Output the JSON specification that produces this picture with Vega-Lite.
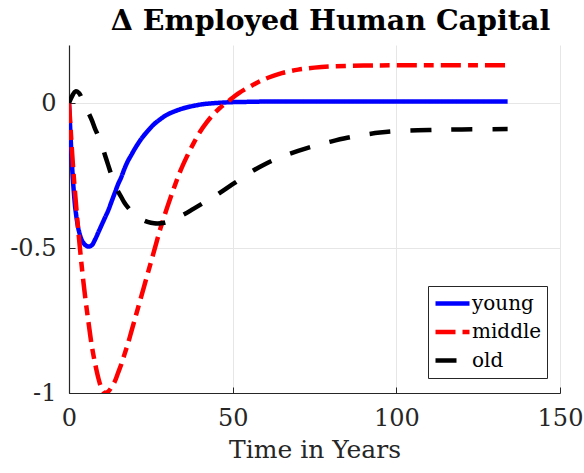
{
  "$schema": "https://vega.github.io/schema/vega-lite/v6.json",
  "autosize": "none",
  "width": 491,
  "height": 348,
  "padding": {"left": 69, "top": 45, "right": 24, "bottom": 80},
  "background": "white",
  "title": {"text": "Δ Employed Human Capital", "font": "DejaVu Serif", "fontSize": 28.5, "fontWeight": "bold", "color": "black", "dx": 16, "offset": 10, "anchor": "middle"},
  "datasets": {
    "curves": [
      {"t": 0, "v": 0, "group": "young"}, {"t": 0.5, "v": -0.12, "group": "young"}, {"t": 1, "v": -0.23, "group": "young"}, {"t": 1.5, "v": -0.31, "group": "young"}, {"t": 2, "v": -0.37, "group": "young"}, {"t": 3, "v": -0.44, "group": "young"}, {"t": 4, "v": -0.475, "group": "young"}, {"t": 5, "v": -0.49, "group": "young"}, {"t": 6, "v": -0.495, "group": "young"}, {"t": 7, "v": -0.49, "group": "young"}, {"t": 8, "v": -0.47, "group": "young"}, {"t": 9, "v": -0.445, "group": "young"}, {"t": 10, "v": -0.42, "group": "young"}, {"t": 11, "v": -0.395, "group": "young"}, {"t": 12, "v": -0.37, "group": "young"}, {"t": 13, "v": -0.34, "group": "young"}, {"t": 14, "v": -0.31, "group": "young"}, {"t": 15, "v": -0.28, "group": "young"}, {"t": 16, "v": -0.255, "group": "young"}, {"t": 17, "v": -0.225, "group": "young"}, {"t": 18, "v": -0.2, "group": "young"}, {"t": 19, "v": -0.18, "group": "young"}, {"t": 20, "v": -0.16, "group": "young"}, {"t": 22, "v": -0.125, "group": "young"}, {"t": 24, "v": -0.097, "group": "young"}, {"t": 26, "v": -0.073, "group": "young"}, {"t": 28, "v": -0.055, "group": "young"}, {"t": 30, "v": -0.04, "group": "young"}, {"t": 32, "v": -0.03, "group": "young"}, {"t": 35, "v": -0.018, "group": "young"}, {"t": 38, "v": -0.01, "group": "young"}, {"t": 41, "v": -0.004, "group": "young"}, {"t": 45, "v": 0, "group": "young"}, {"t": 50, "v": 0.003, "group": "young"}, {"t": 55, "v": 0.004, "group": "young"}, {"t": 60, "v": 0.005, "group": "young"}, {"t": 80, "v": 0.005, "group": "young"}, {"t": 100, "v": 0.005, "group": "young"}, {"t": 134, "v": 0.005, "group": "young"},
      {"t": 0, "v": 0, "group": "middle"}, {"t": 0.5, "v": -0.09, "group": "middle"}, {"t": 1, "v": -0.18, "group": "middle"}, {"t": 1.5, "v": -0.26, "group": "middle"}, {"t": 2, "v": -0.33, "group": "middle"}, {"t": 3, "v": -0.46, "group": "middle"}, {"t": 4, "v": -0.575, "group": "middle"}, {"t": 5, "v": -0.675, "group": "middle"}, {"t": 6, "v": -0.76, "group": "middle"}, {"t": 7, "v": -0.84, "group": "middle"}, {"t": 8, "v": -0.9, "group": "middle"}, {"t": 9, "v": -0.95, "group": "middle"}, {"t": 10, "v": -0.985, "group": "middle"}, {"t": 11, "v": -1.0, "group": "middle"}, {"t": 12, "v": -0.995, "group": "middle"}, {"t": 13, "v": -0.98, "group": "middle"}, {"t": 14, "v": -0.96, "group": "middle"}, {"t": 15, "v": -0.93, "group": "middle"}, {"t": 16, "v": -0.9, "group": "middle"}, {"t": 17, "v": -0.865, "group": "middle"}, {"t": 18, "v": -0.83, "group": "middle"}, {"t": 19, "v": -0.79, "group": "middle"}, {"t": 20, "v": -0.75, "group": "middle"}, {"t": 22, "v": -0.67, "group": "middle"}, {"t": 24, "v": -0.59, "group": "middle"}, {"t": 26, "v": -0.51, "group": "middle"}, {"t": 28, "v": -0.43, "group": "middle"}, {"t": 30, "v": -0.36, "group": "middle"}, {"t": 32, "v": -0.295, "group": "middle"}, {"t": 34, "v": -0.235, "group": "middle"}, {"t": 36, "v": -0.185, "group": "middle"}, {"t": 38, "v": -0.14, "group": "middle"}, {"t": 40, "v": -0.1, "group": "middle"}, {"t": 42, "v": -0.068, "group": "middle"}, {"t": 44, "v": -0.04, "group": "middle"}, {"t": 46, "v": -0.018, "group": "middle"}, {"t": 48, "v": 0, "group": "middle"}, {"t": 50, "v": 0.018, "group": "middle"}, {"t": 52, "v": 0.035, "group": "middle"}, {"t": 55, "v": 0.055, "group": "middle"}, {"t": 58, "v": 0.073, "group": "middle"}, {"t": 61, "v": 0.088, "group": "middle"}, {"t": 65, "v": 0.103, "group": "middle"}, {"t": 70, "v": 0.115, "group": "middle"}, {"t": 75, "v": 0.122, "group": "middle"}, {"t": 80, "v": 0.126, "group": "middle"}, {"t": 90, "v": 0.129, "group": "middle"}, {"t": 100, "v": 0.13, "group": "middle"}, {"t": 134, "v": 0.13, "group": "middle"},
      {"t": 0, "v": 0, "group": "old"}, {"t": 1, "v": 0.025, "group": "old"}, {"t": 2, "v": 0.04, "group": "old"}, {"t": 3, "v": 0.035, "group": "old"}, {"t": 4, "v": 0.015, "group": "old"}, {"t": 5, "v": -0.01, "group": "old"}, {"t": 6, "v": -0.035, "group": "old"}, {"t": 7, "v": -0.06, "group": "old"}, {"t": 8, "v": -0.09, "group": "old"}, {"t": 9, "v": -0.115, "group": "old"}, {"t": 10, "v": -0.145, "group": "old"}, {"t": 11, "v": -0.18, "group": "old"}, {"t": 12, "v": -0.215, "group": "old"}, {"t": 13, "v": -0.25, "group": "old"}, {"t": 14, "v": -0.28, "group": "old"}, {"t": 15, "v": -0.305, "group": "old"}, {"t": 16, "v": -0.325, "group": "old"}, {"t": 17, "v": -0.345, "group": "old"}, {"t": 18, "v": -0.36, "group": "old"}, {"t": 20, "v": -0.385, "group": "old"}, {"t": 22, "v": -0.4, "group": "old"}, {"t": 24, "v": -0.41, "group": "old"}, {"t": 26, "v": -0.415, "group": "old"}, {"t": 28, "v": -0.415, "group": "old"}, {"t": 30, "v": -0.41, "group": "old"}, {"t": 32, "v": -0.4, "group": "old"}, {"t": 35, "v": -0.385, "group": "old"}, {"t": 38, "v": -0.365, "group": "old"}, {"t": 41, "v": -0.345, "group": "old"}, {"t": 44, "v": -0.325, "group": "old"}, {"t": 48, "v": -0.295, "group": "old"}, {"t": 52, "v": -0.265, "group": "old"}, {"t": 56, "v": -0.235, "group": "old"}, {"t": 60, "v": -0.21, "group": "old"}, {"t": 65, "v": -0.185, "group": "old"}, {"t": 70, "v": -0.165, "group": "old"}, {"t": 75, "v": -0.148, "group": "old"}, {"t": 80, "v": -0.133, "group": "old"}, {"t": 85, "v": -0.12, "group": "old"}, {"t": 90, "v": -0.11, "group": "old"}, {"t": 95, "v": -0.102, "group": "old"}, {"t": 100, "v": -0.097, "group": "old"}, {"t": 110, "v": -0.093, "group": "old"}, {"t": 120, "v": -0.091, "group": "old"}, {"t": 134, "v": -0.09, "group": "old"}
    ]
  },
  "data": {"name": "curves"},
  "mark": {"type": "line", "strokeWidth": 4.5, "interpolate": "catmull-rom", "clip": true},
  "encoding": {
    "x": {"field": "t", "type": "quantitative", "scale": {"domain": [0, 150], "nice": false},
      "axis": {"values": [0, 50, 100, 150], "title": "Time in Years", "labelPadding": 19, "titlePadding": 7, "labelFlush": false}},
    "y": {"field": "v", "type": "quantitative", "scale": {"domain": [-1, 0.2], "nice": false, "zero": false},
      "axis": {"values": [-1, -0.5, 0], "title": null, "labelExpr": "'' + datum.value", "labelPadding": 19, "labelFlush": false}},
    "color": {"field": "group", "type": "nominal", "sort": ["young", "middle", "old"],
      "scale": {"domain": ["young", "middle", "old"], "range": ["#0000ff", "#ff0000", "#000000"]},
      "legend": {"title": null, "orient": "none", "legendX": 359, "legendY": 241, "labelFont": "DejaVu Serif", "labelFontSize": 20, "labelOffset": 0}},
    "strokeDash": {"field": "group", "type": "nominal", "sort": ["young", "middle", "old"],
      "scale": {"domain": ["young", "middle", "old"], "range": [[1, 0], [20, 7, 10, 7], [21, 20]]},
      "legend": {"title": null, "orient": "none", "legendX": 359, "legendY": 241, "labelFont": "DejaVu Serif", "labelFontSize": 20, "labelOffset": 0}},
    "order": {"field": "t", "type": "quantitative"}
  },
  "config": {
    "font": "DejaVu Serif",
    "view": {"stroke": null},
    "axis": {
      "labelFont": "DejaVu Serif", "titleFont": "DejaVu Serif",
      "labelFontSize": 24, "titleFontSize": 25, "titleFontWeight": "normal",
      "labelColor": "#262626", "titleColor": "#262626",
      "domainColor": "#262626", "domainWidth": 1.2,
      "tickColor": "#262626", "tickSize": -6, "tickWidth": 1,
      "grid": true, "gridColor": "#e6e6e6", "gridWidth": 1
    },
    "legend": {
      "labelFont": "DejaVu Serif", "labelFontSize": 20, "labelColor": "black",
      "symbolType": "stroke", "symbolStrokeWidth": 4.5, "symbolSize": 1156, "clipHeight": 25,
      "strokeColor": "#262626", "fillColor": "white", "padding": 5, "rowPadding": 3.5, "labelOffset": 0
    }
  }
}
